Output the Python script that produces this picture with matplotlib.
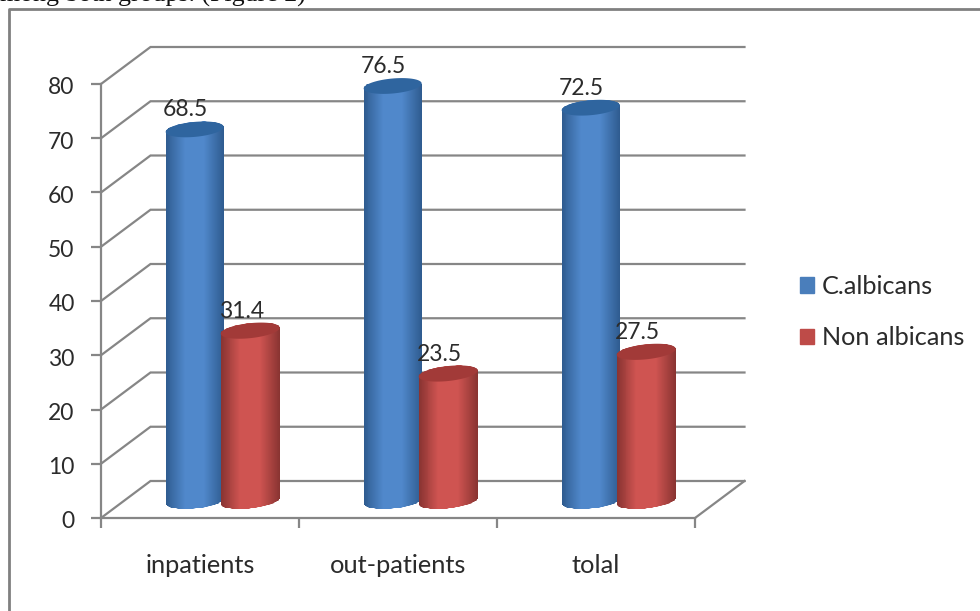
"""
Candida species by patient group, drawn as a 3D style cylinder chart
"""

import numpy as np
import matplotlib
matplotlib.use('Agg')
import matplotlib.pyplot as plt
from matplotlib.colors import LinearSegmentedColormap
from matplotlib.lines import Line2D
from matplotlib.patches import Polygon, Rectangle
from matplotlib.transforms import ScaledTranslation

plt.rcParams['font.family'] = ['Lato', 'DejaVu Sans']

groups = ['inpatients', 'out-patients', 'tolal']
series_names = ['C.albicans', 'Non albicans']
albicans = [68.5, 76.5, 72.5]
non_albicans = [31.4, 23.5, 27.5]
y_ticks = [0, 10, 20, 30, 40, 50, 60, 70, 80]

FIG_W, FIG_H = 980, 611
PX_X = 594 / 3    # pixels per category
PX_Y = 434 / 80   # pixels per value unit
DEPTH_X = 0.25    # back wall offset, in data units
DEPTH_Y = 37 / PX_Y
GRID = '#868686'
TEXT = '#2b2b2b'


def draw_cylinder(ax, center, value, half_px, edge, mid, cap, tilt_px, offset_px=-17):
    """Draw one shaded cylinder; center is in x data units, value on the y scale"""
    a = half_px / PX_X
    b = 7.5 / PX_Y
    tilt = tilt_px / PX_Y
    lift = -offset_px / PX_Y

    # lower half of the base ellipse, then upper side back along the top
    t_low = np.linspace(np.pi, 2 * np.pi, 40)
    base_x = center + a * np.cos(t_low)
    base_y = lift + b * np.sin(t_low) + tilt * np.cos(t_low)
    t_all = np.linspace(0, 2 * np.pi, 80)
    top_x = center + a * np.cos(t_all)
    top_y = value + lift + b * np.sin(t_all) + tilt * np.cos(t_all)

    outline = np.column_stack([
        np.r_[base_x, top_x[:40]],
        np.r_[base_y, top_y[:40]],
    ])
    body = Polygon(outline, closed=True, transform=ax.transData)

    cmap = LinearSegmentedColormap.from_list('shade', [edge, mid, mid, edge])
    xs = np.linspace(center - a, center + a, 61)
    ys = np.array([0, value + lift + 2 * b])
    shade = np.linspace(0, 1, 60).reshape(1, -1)
    mesh = ax.pcolormesh(xs, ys, shade, cmap=cmap, shading='flat', zorder=3, rasterized=True)
    mesh.set_clip_path(body)

    ax.fill(top_x, top_y, color=cap, lw=0, zorder=3.1, clip_on=False)


def main():
    fig = plt.figure(figsize=(FIG_W / 100, FIG_H / 100), dpi=100, facecolor='white')
    ax = fig.add_axes([101 / FIG_W, (FIG_H - 518) / FIG_H, 594 / FIG_W, 434 / FIG_H])
    ax.patch.set_visible(False)

    # Back wall gridlines and the side wall diagonals
    for v in y_ticks:
        ax.plot([0, DEPTH_X, 3 + DEPTH_X], [v, v + DEPTH_Y, v + DEPTH_Y],
                color=GRID, lw=1.6, clip_on=False, zorder=1, solid_joinstyle='miter')
    ax.plot([3, 3 + DEPTH_X], [0, DEPTH_Y], color=GRID, lw=1.6, clip_on=False, zorder=1)

    # Cylinders, red drawn last so it sits over the blue edge
    for i in range(len(groups)):
        group_center = i + 0.617
        draw_cylinder(ax, group_center - 28.5 / PX_X, albicans[i], 29,
                      '#2f5c90', '#5088cb', '#2f659f', 2.5)
        draw_cylinder(ax, group_center + 27 / PX_X, non_albicans[i], 29.5,
                      '#8a3432', '#cf5451', '#a23a38', 3)

    # Value labels above each cap
    for i in range(len(groups)):
        group_center = i + 0.617
        for off, val in [(-28.5, albicans[i]), (27, non_albicans[i])]:
            ax.text(group_center + (off - 9) / PX_X, val + 36.5 / PX_Y, f'{val}',
                    ha='center', va='center', fontsize=16.5, color=TEXT, zorder=5)

    ax.set_xlim(0, 3)
    ax.set_ylim(0, 80)
    for side in ['top', 'right']:
        ax.spines[side].set_visible(False)
    for side in ['left', 'bottom']:
        ax.spines[side].set_color(GRID)
        ax.spines[side].set_linewidth(1.6)
        ax.spines[side].set_zorder(2)

    ax.set_yticks(y_ticks)
    ax.set_xticks([0, 1, 2, 3])
    ax.set_xticklabels([])
    ax.set_xticks([0.5, 1.5, 2.5], labels=groups, minor=True)
    ax.tick_params(axis='both', which='major', direction='out', length=7, width=1.6,
                   color=GRID, labelcolor=TEXT, labelsize=16.5)
    ax.tick_params(axis='y', which='major', pad=12)
    ax.tick_params(axis='x', which='minor', length=0, pad=26, labelcolor=TEXT, labelsize=18.3)

    # Nudge the value axis labels down a little
    nudge = ScaledTranslation(0, -2 / 100, fig.dpi_scale_trans)
    for label in ax.get_yticklabels():
        label.set_transform(label.get_transform() + nudge)

    handles = [Rectangle((0, 0), 1, 1, color='#4a7ebb'), Rectangle((0, 0), 1, 1, color='#be4b48')]
    fig.legend(handles, series_names, loc='upper left', bbox_to_anchor=(800 / FIG_W, 1 - 275 / FIG_H),
               frameon=False, fontsize=18.2, labelcolor=TEXT, handlelength=0.56, handleheight=0.56,
               handletextpad=0.32, labelspacing=1.12, borderpad=0, borderaxespad=0)

    # Outer chart border, open at the right and bottom edges of the page
    fig.add_artist(Line2D([9 / FIG_W, 9 / FIG_W, 1], [0, 1 - 9 / FIG_H, 1 - 9 / FIG_H],
                          transform=fig.transFigure, color='#808080', lw=2))

    # Line of body text running above the chart
    fig.text(0, 1 - 2 / FIG_H, 'mong both groups. (Figure 2)', family='Liberation Serif',
             fontsize=18.6, color='#111111', ha='left', va='baseline')

    fig.savefig('out.png', dpi=100, facecolor='white')
    plt.close(fig)


if __name__ == '__main__':
    main()
